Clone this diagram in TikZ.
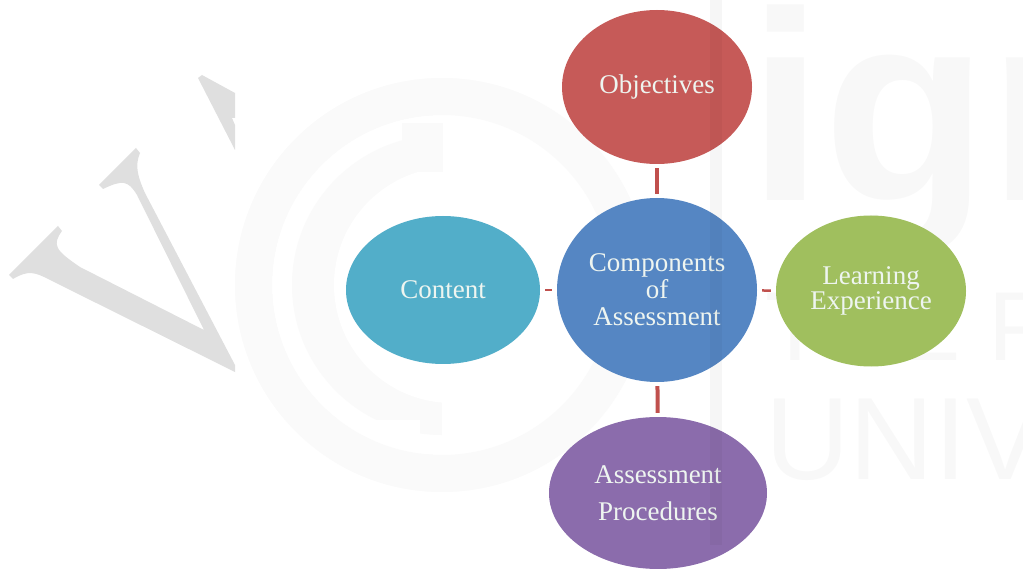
\documentclass[tikz,border=0pt]{standalone}
\usepackage{fontspec}
\setmainfont{Liberation Serif}
\newfontfamily\wmfont{Liberation Sans}
\usetikzlibrary{shapes.geometric}
\definecolor{wm}{HTML}{FAFAFA}
\definecolor{wmtxt}{HTML}{F8F8F8}
\definecolor{vgrey}{HTML}{DFDFDF}
\definecolor{cred}{HTML}{C65A58}
\definecolor{clink}{HTML}{C0504D}
\definecolor{cblue}{HTML}{5586C3}
\definecolor{cgreen}{HTML}{A0BF5E}
\definecolor{cpurple}{HTML}{8B6CAC}
\definecolor{cteal}{HTML}{52AEC9}
\definecolor{ctext}{HTML}{EEF5F0}
\tikzset{
  x=1pt,y=-1pt,
  blob/.style={ellipse,minimum width=2*#1,inner sep=0pt,text=ctext,align=center,font=\fontsize{27}{27}\selectfont},
  vlink/.style={draw=clink,line width=4pt,shorten >=4pt,shorten <=4pt},
  hlink/.style={draw=clink,line width=2.5pt,shorten >=5pt,shorten <=5pt},
  wmtext/.style={anchor=base west,inner sep=0pt,text=wmtxt}
}
\begin{document}
\begin{tikzpicture}
\useasboundingbox (0,0) rectangle (1023,569);
\clip (0,0) rectangle (1023,569);
% V watermark
\fill[vgrey] (58,226) -- (62,231) .. controls (52,245) and (55,250) .. (80,267) -- (204,330) -- (137,195)
  .. controls (128,180) and (122,180) .. (103,189) -- (99,185) -- (136,148) -- (140,153)
  .. controls (135,165) and (137,175) .. (145,193) -- (235,365) -- (235,372) -- (50,280)
  .. controls (35,272) and (28,270) .. (13,279) -- (9,275) -- cycle;
\fill[vgrey] (202,75) -- (235,93) -- (235,118) -- (232,118) -- (235,125) -- (235,150) -- (198,78) -- cycle;
% logo watermark
\begin{scope}
\clip (235,0) rectangle (760,569);
\fill[wm] (442,285) circle[radius=207];
\fill[white] (442,285) circle[radius=170];
\fill[wm] (442,285) circle[radius=150];
\fill[white] (452,285) circle[radius=118];
\fill[white] (442,100) rectangle (660,470);
\fill[white] (235,420) rectangle (420,470);
\fill[wm] (402,123) rectangle (443,172);
\end{scope}
\begin{scope}
\clip (235,0) rectangle (760,569);
\fill[wm,even odd rule] (442,285) circle[radius=207] (442,285) circle[radius=170];
\end{scope}
\node[wmtext,font=\wmfont\bfseries\fontsize{270}{270}\selectfont] (wmig) at (748,201) {ign};
\node[wmtext,font=\wmfont\fontsize{98}{98}\selectfont] (wmthe) at (765,360) {THE P};
\node[wmtext,font=\wmfont\fontsize{117}{117}\selectfont] (wmuni) at (765,479) {UNIV};
% nodes
\node[blob=95pt,fill=cred,minimum height=154pt] (obj) at (657,87) {Objectives};
\node[blob=100pt,fill=cblue,minimum height=184pt] (comp) at (657,290) {Components\\of\\Assessment};
\node[blob=95pt,fill=cgreen,minimum height=151pt] (learn) at (871,291) {Learning\\[-2pt]Experience};
\node[blob=97pt,fill=cteal,minimum height=148pt] (cont) at (443,290) {Content};
\node[blob=109pt,fill=cpurple,minimum height=152pt] (proc) at (658,493) {Assessment\\[10pt]Procedures};
% connectors
\draw[vlink] (obj) -- (comp);
\draw[vlink] (comp) -- (proc);
\draw[hlink] (comp) -- (learn);
\draw[hlink,line width=2pt] (comp) -- (cont);
% vertical watermark stripe
\fill[black,opacity=0.035] (710,0) rectangle (722,545);
\end{tikzpicture}
\end{document}
